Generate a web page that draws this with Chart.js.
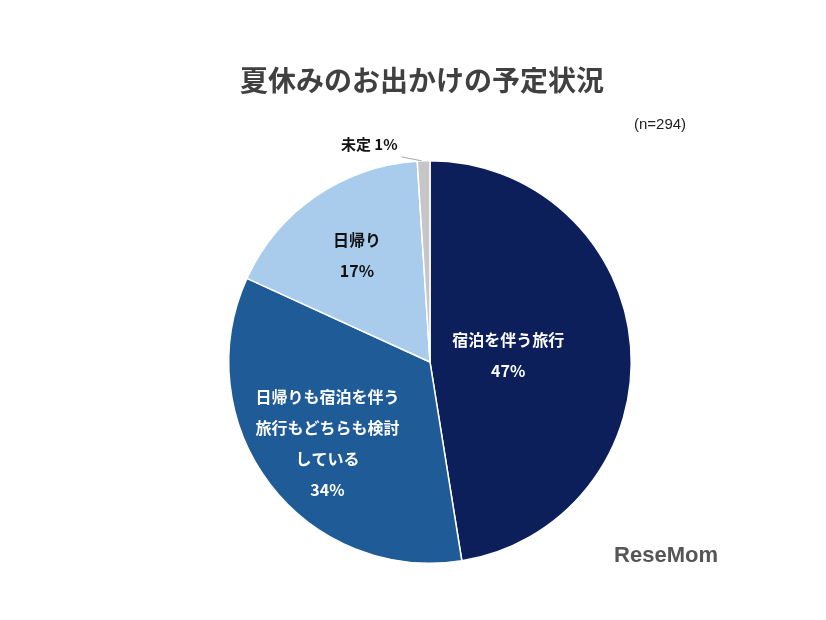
<!DOCTYPE html><html><head><meta charset="utf-8">
<script src="https://cdn.jsdelivr.net/npm/chart.js@4"></script>
<style>html,body{margin:0;background:#fff}#w{width:826px;height:620px}</style></head><body><div id="w"><canvas id="c"></canvas></div>
<script>
const categories=["宿泊を伴う旅行","日帰りも宿泊を伴う旅行もどちらも検討している","日帰り","未定"];
const labelLines=[["宿泊を伴う旅行"],["日帰りも宿泊を伴う","旅行もどちらも検討","している"],["日帰り"],["未定"]];
const values=[47,34,17,1];
const colors=["#0C1F5B","#1F5B97","#A9CBEC","#C6C6C6"];
const F='"Noto Sans CJK JP","Noto Sans",sans-serif';
const labelPlugin={id:'lbl',afterDraw(ch){
 const c=ch.ctx,meta=ch.getDatasetMeta(0);
 c.save();c.textAlign='center';c.textBaseline='middle';
 c.fillStyle='#404040';c.font='bold 28px '+F;c.fillText('夏休みのお出かけの予定状況',422,80);
 c.font='15px "Liberation Sans",sans-serif';c.fillStyle='#222';c.fillText('(n=294)',660,125);
 const rf=[0.39,0.64,0.64];
 meta.data.forEach((a,i)=>{
  const mid=(a.startAngle+a.endAngle)/2;
  if(i<3){
   const r=a.outerRadius*rf[i];const x=a.x+Math.cos(mid)*r,y=a.y+Math.sin(mid)*r+(i==1?3:0);
   const ls=[...labelLines[i],values[i]+'%'];
   c.fillStyle=i==2?'#111':'#fff';c.font='bold 16px '+F;
   const lh=31,y0=y-(ls.length-1)*lh/2;
   ls.forEach((t,k)=>c.fillText(t,x,y0+k*lh));
  }else{
   const ex=a.x+Math.cos(mid)*a.outerRadius,ey=a.y+Math.sin(mid)*a.outerRadius;
   c.strokeStyle='#A6A6A6';c.lineWidth=1;c.beginPath();c.moveTo(ex-2,ey);c.lineTo(ex-22,ey-4);c.stroke();
   c.fillStyle='#111';c.font='bold 15px '+F;c.textAlign='right';
   c.fillText(labelLines[i][0]+' '+values[i]+'%',ex-26,ey-17);
  }
 });
 c.textAlign='right';c.font='bold 22px "Liberation Sans",sans-serif';c.fillStyle='#555';c.fillText('ReseMom',718,556);
 c.restore();}};
new Chart(document.getElementById('c'),{type:'pie',
 data:{labels:categories,datasets:[{data:values,backgroundColor:colors,borderColor:'#fff',borderWidth:1.5}]},
 options:{responsive:true,maintainAspectRatio:false,animation:false,
  layout:{padding:{top:160,bottom:56,left:228,right:194}},
  plugins:{legend:{display:false},tooltip:{enabled:false}}},
 plugins:[labelPlugin]});
</script></body></html>
